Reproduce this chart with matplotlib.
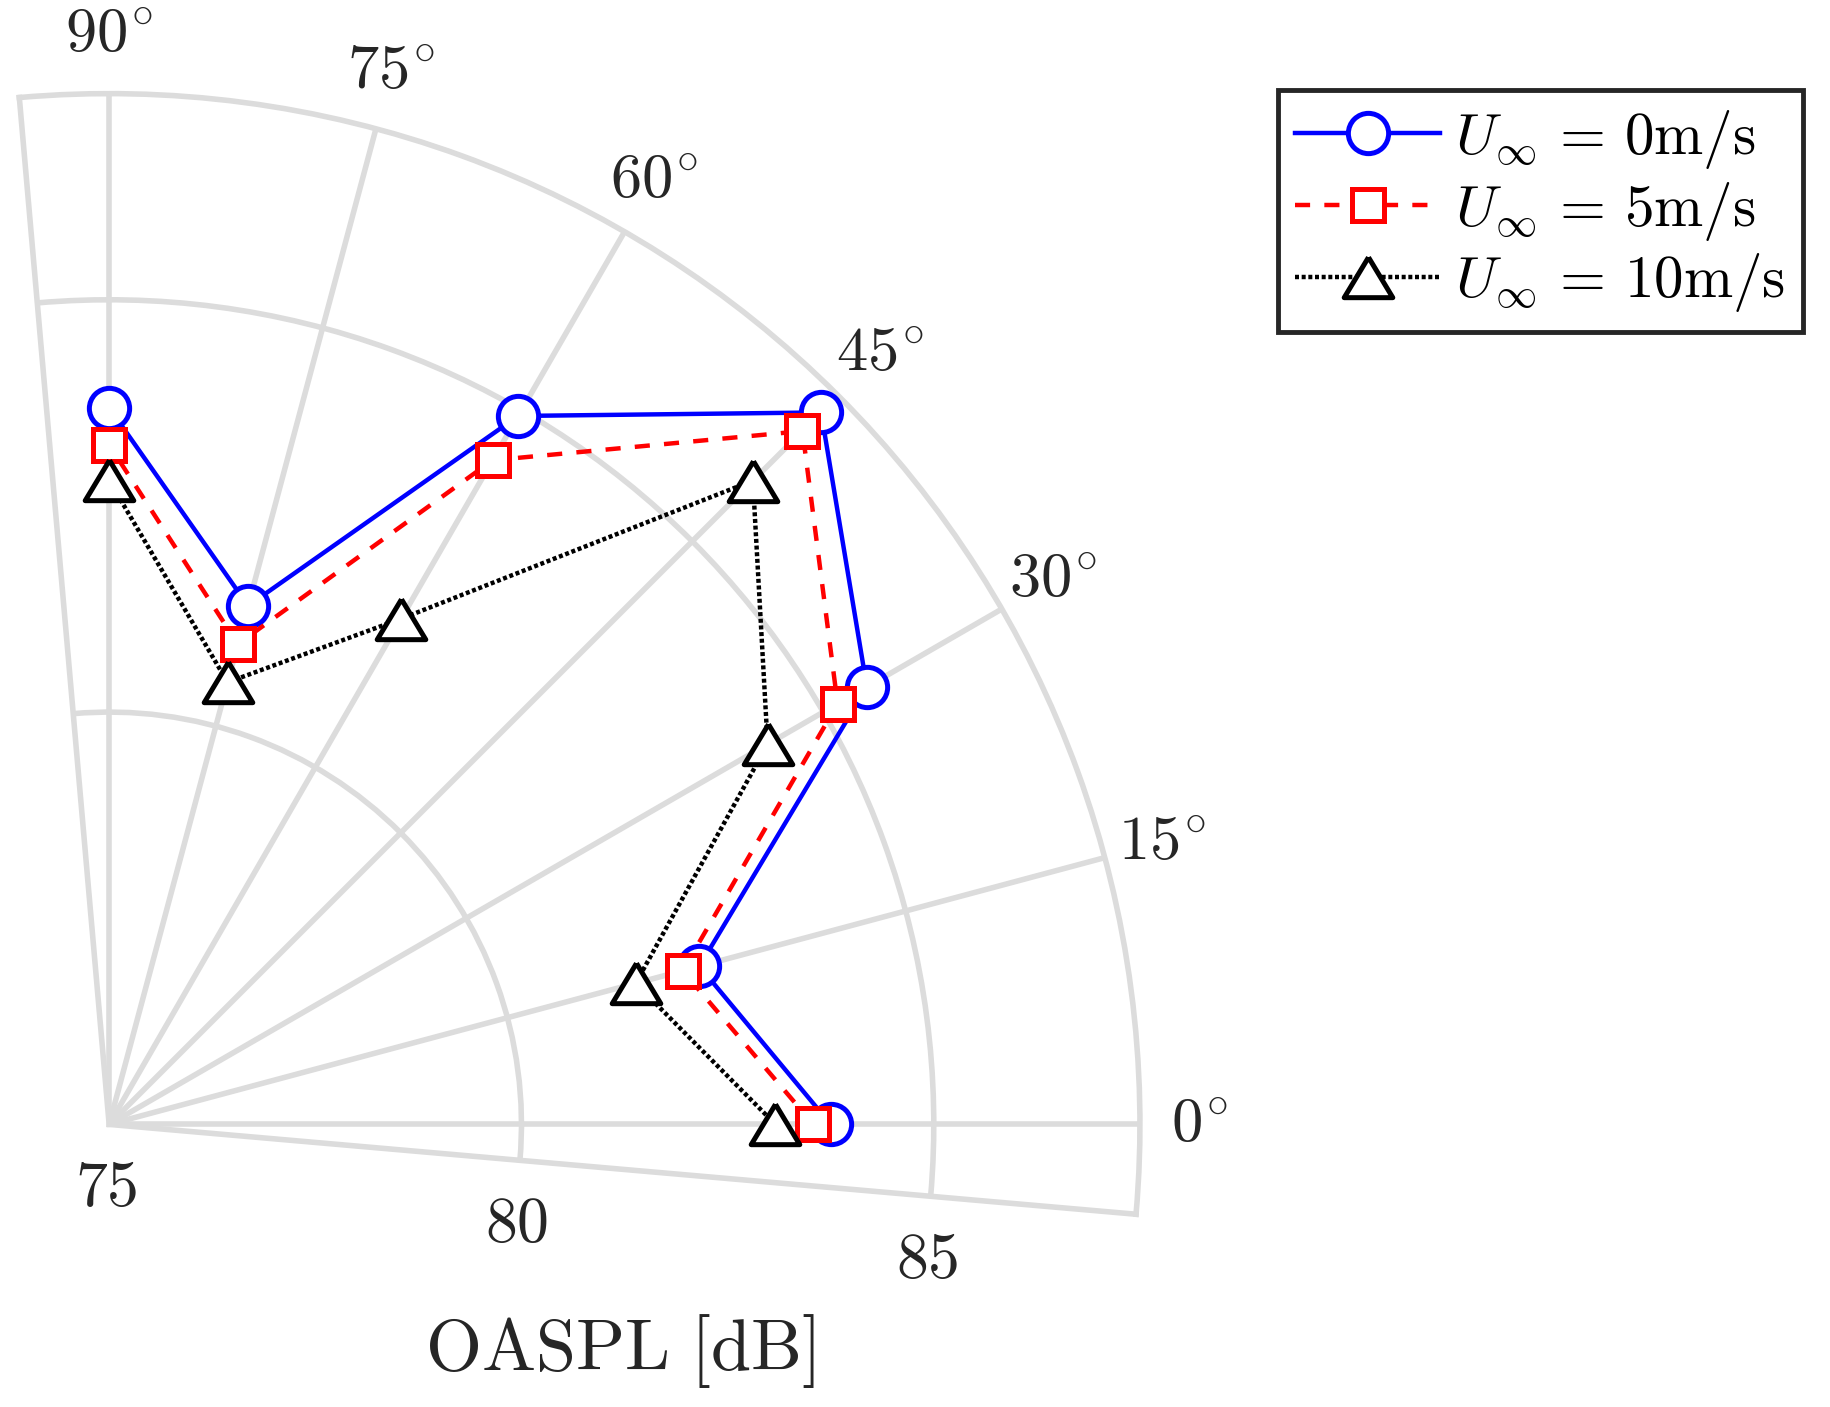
import numpy as np
import matplotlib.pyplot as plt

plt.rcParams['mathtext.fontset'] = 'cm'
plt.rcParams['font.family'] = 'serif'

# angles in degrees, OASPL in dB
angles = [0, 15, 30, 45, 60, 75, 90]
oaspl_0 = [83.75, 82.41, 85.61, 87.21, 84.92, 81.51, 83.69]
oaspl_5 = [83.54, 82.20, 85.20, 86.89, 84.30, 81.03, 83.24]
oaspl_10 = [83.08, 81.61, 84.22, 86.04, 82.08, 80.55, 82.81]
speeds = [0, 5, 10]
r_ticks = [75, 80, 85]

grey = '#dcdcdc'
txt = '#262626'
# MATLAB-like triangle, a bit wider than tall
tri = [(0, 0.83), (-1, -0.83), (1, -0.83), (0, 0.83)]

fig = plt.figure(figsize=(18.3, 14.07), dpi=100)
ax = fig.add_axes([0.0105, 0.137, 0.6175, 0.803], projection='polar')
th = np.deg2rad(angles)

lab = r'$U_\infty\,=\,%d\mathrm{m/s}$'
ax.plot(th, oaspl_0, '-', marker='o', color='blue', lw=3.2, ms=29, mew=3.6, mfc='white',
        label=lab % speeds[0], clip_on=False, zorder=3)
ax.plot(th, oaspl_5, '--', marker='s', color='red', lw=3.2, ms=23, mew=3.6, mfc='white',
        dashes=(3.4, 3.2), label=lab % speeds[1], clip_on=False, zorder=3)
ax.plot(th, oaspl_10, ':', marker=tri, color='black', lw=3.2, ms=35, mew=3.6, mfc='white',
        dashes=(0.9, 0.6), label=lab % speeds[2], clip_on=False, zorder=3)

ax.set_thetamin(-5)
ax.set_thetamax(95)
ax.set_rlim(75, 87.5)
ax.set_thetagrids(angles, [r'$%d^{\!\circ}$' % a for a in angles])
ax.set_rgrids(r_ticks, [r'$%d$' % r for r in r_ticks])
ax.tick_params(axis='x', pad=32, labelsize=45, labelcolor=txt)
ax.tick_params(axis='y', pad=24, length=0, labelsize=46, labelcolor=txt)
ax.grid(color=grey, lw=4)
for s in ax.spines.values():
    s.set_color(grey)
    s.set_linewidth(4)

fig.text(620 / 1830, 1 - 1351 / 1407, r'$\mathrm{OASPL\ [dB]}$', fontsize=52,
         color=txt, ha='center', va='center')

leg = ax.legend(loc='upper right', bbox_to_anchor=(0.985, 0.936), bbox_transform=fig.transFigure,
                fontsize=42.5, fancybox=False, edgecolor=txt, framealpha=1, handlelength=2.45,
                handletextpad=0.25, labelspacing=0.15, borderpad=0.3, borderaxespad=0)
leg.get_frame().set_linewidth(3.5)

fig.savefig('out.png', dpi=100)
